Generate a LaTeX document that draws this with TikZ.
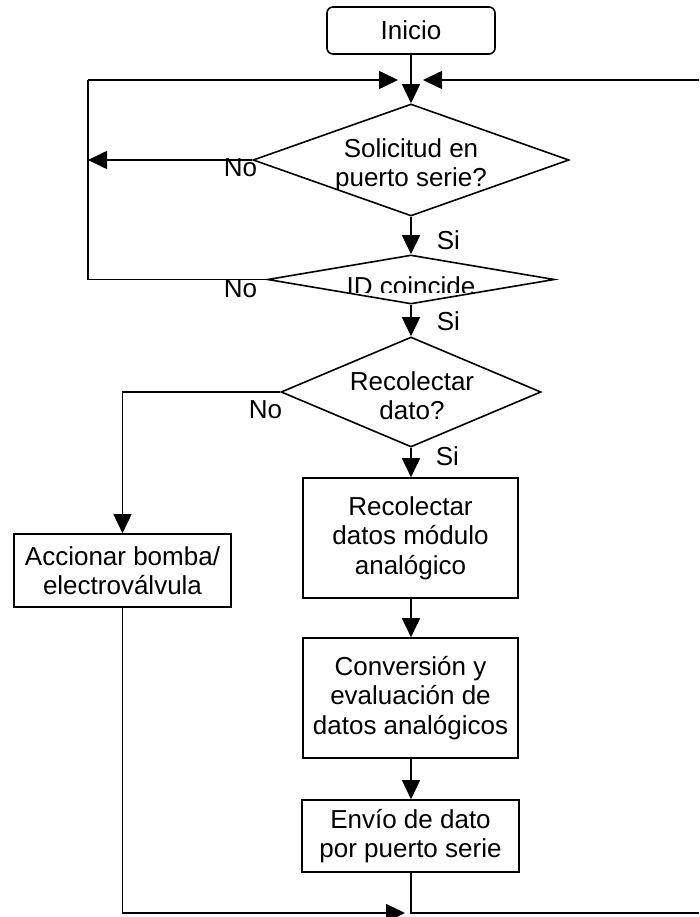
\documentclass[tikz,border=0pt]{standalone}
\usepackage{fontspec}
\setmainfont{Liberation Sans}
\usetikzlibrary{shapes.geometric,arrows.meta}
\begin{document}
\begin{tikzpicture}[x=1pt,y=-1pt,
  line width=1.6pt,
  font=\fontsize{26}{29.5}\selectfont,
  arr/.style={-{Triangle[length=19pt,width=18pt]}},
  proc/.style={draw,rectangle,inner sep=0pt,align=center},
  dec/.style={draw,diamond,inner sep=0pt},
  lbl/.style={inner sep=0pt},
]
\useasboundingbox (0,0) rectangle (699,917);
% nodes
\node[proc,rounded corners=6pt,minimum width=168pt,minimum height=47pt] (inicio) at (411,30.5) {Inicio};
\node[dec,minimum width=316pt,minimum height=112pt] (d1) at (411,160) {};
\node[dec,minimum width=287pt,minimum height=49pt] (d2) at (411,279.5) {};
\node[dec,minimum width=260pt,minimum height=110pt] (d3) at (411,392) {};
\node[proc,minimum width=215pt,minimum height=120pt] (rec) at (410.5,538) {Recolectar\\datos módulo\\analógico};
\node[proc,minimum width=215pt,minimum height=120pt] (conv) at (410.5,698) {Conversión y\\evaluación de\\datos analógicos};
\node[proc,minimum width=217pt,minimum height=72pt] (envio) at (410.5,836) {Envío de dato\\por puerto serie};
\node[proc,minimum width=217pt,minimum height=73pt] (accion) at (122.5,570.5) {Accionar bomba/\\electroválvula};
% diamond texts
\begin{scope}
  \clip (250,100) rectangle (572,189);
  \node[lbl,anchor=base] (t1a) at (411,158) {Solicitud en};
  \node[lbl,anchor=base] (t1b) at (411,187) {puerto serie?};
\end{scope}
\begin{scope}
  \clip (260,250) rectangle (560,292);
  \node[lbl,anchor=base] (t2) at (411,295.5) {ID coincide};
\end{scope}
\node[lbl,anchor=base] (t3a) at (412,390) {Recolectar};
\node[lbl,anchor=base] (t3b) at (412,419) {dato?};
% labels
\node[lbl,anchor=base east] (no1) at (258,177) {No};
\node[lbl,anchor=base east] (no2) at (258,297) {No};
\node[lbl,anchor=base east] (no3) at (283,418) {No};
\node[lbl,anchor=base west] (si1) at (436,249) {Si};
\node[lbl,anchor=base west] (si2) at (436,330) {Si};
\node[lbl,anchor=base west] (si3) at (435,465) {Si};
% coordinates
\coordinate (lt) at (88,80);
\coordinate (ltip) at (398,80);
\coordinate (rt) at (699,80);
\coordinate (rtip) at (423,80);
\coordinate (bl) at (122.5,913);
\coordinate (btip) at (405,913);
\coordinate (br) at (699,913);
% connectors
\draw[arr] (inicio.south) -- (d1.north);
\draw[arr] (lt) -- (ltip);
\draw[arr] (rt) -- (rtip);
\draw[arr] (d1.west) -- (lt |- d1.west);
\draw (d2.west) -- (lt |- d2.west) -- (lt);
\draw[arr] (d1.south) -- (d2.north);
\draw[arr] (d2.south) -- (d3.north);
\draw[arr] (d3.south) -- (d3.south |- rec.north);
\draw[arr] (d3.west) -| (accion.north);
\draw[arr] (rec.south -| d3.south) -- (d3.south |- conv.north);
\draw[arr] (conv.south -| d3.south) -- (d3.south |- envio.north);
\draw[arr] (accion.south) -- (bl) -- (btip);
\draw (envio.south -| d3.south) -- (d3.south |- br) -- (br);
\end{tikzpicture}
\end{document}
